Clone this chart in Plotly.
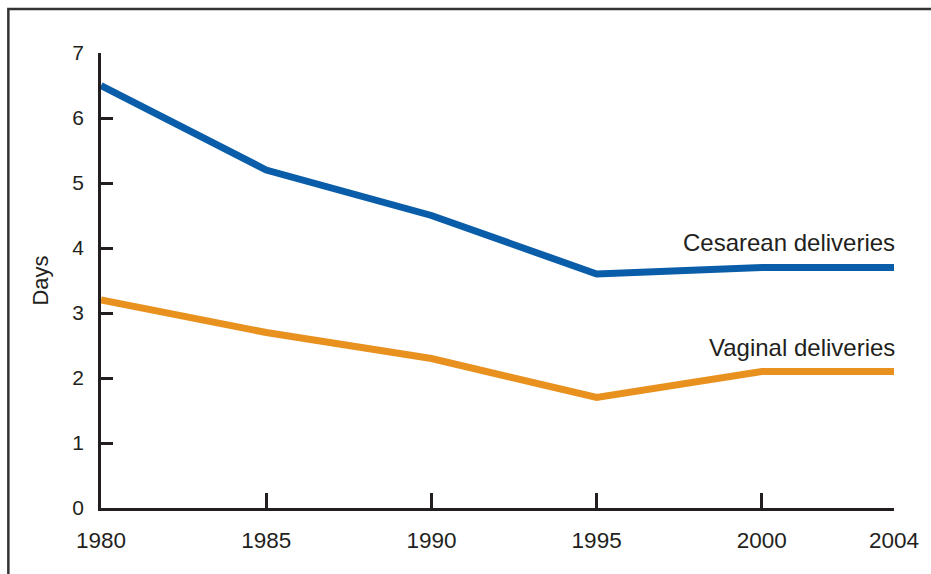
import plotly.graph_objects as go

years = [1980, 1985, 1990, 1995, 2000, 2004]
cesarean = [6.5, 5.2, 4.5, 3.6, 3.7, 3.7]
vaginal = [3.2, 2.7, 2.3, 1.7, 2.1, 2.1]
x_ticks = [1980, 1985, 1990, 1995, 2000, 2004]
y_ticks = [0, 1, 2, 3, 4, 5, 6, 7]

BLUE = "#0A5DA8"
ORANGE = "#E8911F"
INK = "#231F20"
FONT = "Liberation Sans, Arial, Helvetica, sans-serif"

fig = go.Figure()
fig.add_trace(go.Scatter(x=years, y=cesarean, mode="lines",
                         line=dict(color=BLUE, width=7), hoverinfo="skip"))
fig.add_trace(go.Scatter(x=years, y=vaginal, mode="lines",
                         line=dict(color=ORANGE, width=7), hoverinfo="skip"))

fig.add_annotation(x=2004, y=4.08, text="Cesarean deliveries", xref="x", yref="y",
                   xanchor="right", yanchor="middle", showarrow=False, xshift=3,
                   font=dict(family=FONT, size=24, color=INK))
fig.add_annotation(x=2004, y=2.47, text="Vaginal deliveries", xref="x", yref="y",
                   xanchor="right", yanchor="middle", showarrow=False, xshift=3,
                   font=dict(family=FONT, size=24, color=INK))

# outer frame (extends past right and bottom edges)
fig.add_shape(type="rect", xref="paper", yref="paper",
              x0=(8 - 101) / 796, x1=1.3, y0=-0.4, y1=(508 - 9) / 455,
              line=dict(color="#333333", width=2.5), fillcolor="rgba(0,0,0,0)",
              layer="below")

fig.update_layout(
    width=931, height=574,
    margin=dict(l=101, r=34, t=53, b=66),
    paper_bgcolor="white", plot_bgcolor="white",
    showlegend=False,
    font=dict(family=FONT, color=INK),
    xaxis=dict(range=[1980, 2004], tickvals=x_ticks, ticktext=[str(v) for v in x_ticks],
               showgrid=False, zeroline=False, showline=True, linecolor=INK, linewidth=2.5,
               ticks="inside", ticklen=15, tickwidth=2.5, tickcolor=INK,
               ticklabelstandoff=10, tickfont=dict(family=FONT, size=22.5, color=INK)),
    yaxis=dict(range=[0, 7], tickvals=y_ticks, showgrid=False, zeroline=False,
               showline=True, linecolor=INK, linewidth=2.5,
               ticks="inside", ticklen=12, tickwidth=2.5, tickcolor=INK,
               ticklabelstandoff=10, tickfont=dict(family=FONT, size=21, color=INK),
               title=dict(text="Days", standoff=18, font=dict(family=FONT, size=22, color=INK))),
)

fig.write_html("out.html", config={"displayModeBar": False},
               post_script="document.body.style.margin='0';document.body.style.overflow='hidden';")
